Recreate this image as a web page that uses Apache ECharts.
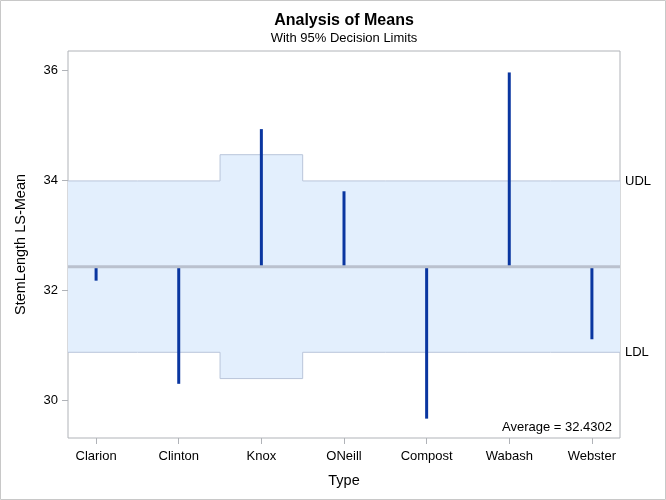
<!DOCTYPE html>
<html>
<head>
<meta charset="utf-8">
<script src="https://cdn.jsdelivr.net/npm/echarts@6/dist/echarts.min.js"></script>
<style>
html,body{margin:0;padding:0;background:#fff;}
#chart{width:666px;height:500px;}
</style>
</head>
<body>
<div id="chart"></div>
<script>
const categories = ['Clarion', 'Clinton', 'Knox', 'ONeill', 'Compost', 'Wabash', 'Webster'];
const lsMeans = [32.175, 30.30, 34.93, 33.80, 29.667, 35.96, 31.11];
const average = 32.4302;
const udl = [33.988, 33.988, 34.465, 33.988, 33.988, 33.988, 33.988];
const ldl = [30.873, 30.873, 30.395, 30.873, 30.873, 30.873, 30.873];
const yTicks = [30, 32, 34, 36];
const xTicks = [0, 1, 2, 3, 4, 5, 6];

const X_MIN = -0.34, X_MAX = 6.34;
const Y_MIN = 29.315, Y_MAX = 36.35;
const FONT = '"Liberation Sans", Arial, sans-serif';
const clampX = v => Math.max(X_MIN, Math.min(X_MAX, v));

const chart = echarts.init(document.getElementById('chart'), null, {renderer: 'canvas'});

const option = {
  animation: false,
  textStyle: {fontFamily: FONT},
  title: [{
    text: 'Analysis of Means',
    left: 344, top: 13, textAlign: 'center', padding: 0,
    textStyle: {fontSize: 16, fontWeight: 'bold', color: '#000', fontFamily: FONT}
  }, {
    text: 'With 95% Decision Limits',
    left: 344, top: 32, textAlign: 'center', padding: 0,
    textStyle: {fontSize: 13, fontWeight: 'normal', color: '#000', fontFamily: FONT}
  }],
  grid: {
    left: 68, right: 46, top: 51, bottom: 62,
    show: true, borderColor: '#b0b3b8', borderWidth: 1, backgroundColor: 'transparent'
  },
  xAxis: {
    type: 'value', min: X_MIN, max: X_MAX,
    name: 'Type', nameLocation: 'middle', nameGap: 35,
    nameTextStyle: {fontSize: 14.5, color: '#000', fontFamily: FONT},
    axisLine: {show: false, onZero: false},
    axisTick: {show: true, customValues: xTicks, length: 6, lineStyle: {color: '#b0b3b8'}},
    axisLabel: {customValues: xTicks, formatter: v => categories[Math.round(v)], fontSize: 13, color: '#000', margin: 12, fontFamily: FONT},
    splitLine: {show: false}
  },
  yAxis: {
    type: 'value', min: Y_MIN, max: Y_MAX,
    name: 'StemLength LS-Mean', nameLocation: 'middle', nameGap: 40,
    nameTextStyle: {fontSize: 14.5, color: '#000', fontFamily: FONT},
    axisLine: {show: false, onZero: false},
    axisTick: {show: true, customValues: yTicks, length: 6, lineStyle: {color: '#b0b3b8'}},
    axisLabel: {customValues: yTicks, fontSize: 13, color: '#000', margin: 10, fontFamily: FONT},
    splitLine: {show: false}
  },
  graphic: [{
    type: 'rect', shape: {x: 0.5, y: 0.5, width: 665, height: 499},
    style: {fill: 'none', stroke: '#c8c8c8', lineWidth: 1}, silent: true, z: -10
  }],
  series: [
    {
      type: 'custom', name: 'band', z: 1,
      data: [[0, average]],
      renderItem: function (params, api) {
        const up = [], lo = [];
        for (let i = 0; i < categories.length; i++) {
          up.push(api.coord([clampX(i - 0.5), udl[i]]));
          up.push(api.coord([clampX(i + 0.5), udl[i]]));
          lo.push(api.coord([clampX(i - 0.5), ldl[i]]));
          lo.push(api.coord([clampX(i + 0.5), ldl[i]]));
        }
        const pts = up.concat(lo.slice().reverse());
        const n = categories.length - 1;
        const pU = api.coord([X_MAX, udl[n]]);
        const pL = api.coord([X_MAX, ldl[n]]);
        return {
          type: 'group',
          children: [
            {type: 'polygon', shape: {points: pts}, style: {fill: '#e3effd', stroke: 'none'}},
            {type: 'polyline', shape: {points: up}, style: {stroke: '#b9c5da', lineWidth: 1, fill: 'none'}},
            {type: 'polyline', shape: {points: lo}, style: {stroke: '#b9c5da', lineWidth: 1, fill: 'none'}},
            {type: 'text', x: pU[0] + 5, y: pU[1], style: {text: 'UDL', fontSize: 13, fill: '#000', fontFamily: FONT, verticalAlign: 'middle', align: 'left'}},
            {type: 'text', x: pL[0] + 5, y: pL[1], style: {text: 'LDL', fontSize: 13, fill: '#000', fontFamily: FONT, verticalAlign: 'middle', align: 'left'}}
          ]
        };
      }
    },
    {
      type: 'custom', name: 'means', z: 2,
      data: lsMeans.map((v, i) => [i, v]),
      encode: {x: 0, y: 1},
      renderItem: function (params, api) {
        const x = api.value(0);
        const p0 = api.coord([x, average]);
        const p1 = api.coord([x, api.value(1)]);
        return {type: 'line', shape: {x1: p0[0], y1: p0[1], x2: p1[0], y2: p1[1]},
          style: {stroke: '#0a36a0', lineWidth: 3, lineCap: 'butt'}};
      }
    },
    {
      type: 'custom', name: 'average', z: 3,
      data: [[0, average]],
      renderItem: function (params, api) {
        const a = api.coord([X_MIN, average]);
        const b = api.coord([X_MAX, average]);
        const c = api.coord([X_MAX, Y_MIN]);
        return {
          type: 'group',
          children: [
            {type: 'line', shape: {x1: a[0], y1: a[1], x2: b[0], y2: b[1]}, style: {stroke: '#bac1ce', lineWidth: 3}},
            {type: 'text', x: c[0] - 8, y: c[1] - 11, style: {text: 'Average = ' + average.toFixed(4), fontSize: 13, fill: '#000', fontFamily: FONT, align: 'right', verticalAlign: 'middle'}}
          ]
        };
      }
    }
  ]
};
chart.setOption(option);
</script>
</body>
</html>
